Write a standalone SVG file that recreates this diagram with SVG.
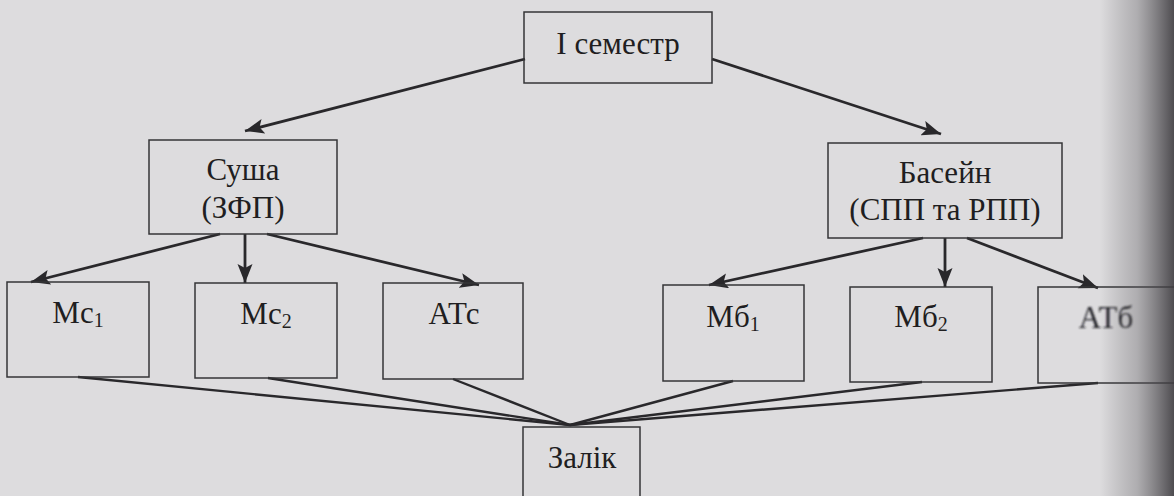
<svg xmlns="http://www.w3.org/2000/svg" width="1174" height="496" viewBox="0 0 1174 496">
  <style>
    .box { fill: none; stroke: #353437; stroke-width: 1.5; }
    .lbl { font-family: "Liberation Serif", "Times New Roman", serif; font-size: 31px; fill: #1f1e21; text-anchor: middle; }
    .sub { font-size: 20px; }
    .arr { stroke: #29282b; stroke-width: 2.8; fill: none; marker-end: url(#ah); }
    .ln { stroke: #29282b; stroke-width: 2.4; fill: none; }
  </style>
  <defs>
    <marker id="ah" markerUnits="userSpaceOnUse" markerWidth="22" markerHeight="16" refX="19" refY="7.5" orient="auto">
      <path d="M0,0 L19,7.5 L0,15 L4,7.5 Z" fill="#29282b"/>
    </marker>
    <linearGradient id="shade" x1="0" y1="0" x2="1" y2="0">
      <stop offset="0" stop-color="#4a484c" stop-opacity="0"/>
      <stop offset="0.5" stop-color="#5a585c" stop-opacity="0.35"/>
      <stop offset="1" stop-color="#3e3c40" stop-opacity="0.9"/>
    </linearGradient>
    <filter id="blur" x="-10%" y="-10%" width="120%" height="120%">
      <feGaussianBlur stdDeviation="0.9"/>
    </filter>
  </defs>

  <rect x="0" y="0" width="1174" height="496" fill="#dddcde"/>

  <g id="connectors">
    <line class="arr" x1="525" y1="59" x2="245" y2="131"/>
    <line class="arr" x1="712" y1="59" x2="941" y2="134"/>
    <line class="arr" x1="220" y1="234" x2="31" y2="282"/>
    <line class="arr" x1="245" y1="234" x2="245" y2="283"/>
    <line class="arr" x1="267" y1="234" x2="479" y2="285"/>
    <line class="arr" x1="923" y1="238" x2="709" y2="285"/>
    <line class="arr" x1="945" y1="238" x2="945" y2="287"/>
    <line class="arr" x1="967" y1="238" x2="1098" y2="288"/>
    <line class="ln" x1="78" y1="377" x2="570" y2="425"/>
    <line class="ln" x1="268" y1="378" x2="570" y2="425"/>
    <line class="ln" x1="453" y1="379" x2="570" y2="425"/>
    <line class="ln" x1="733" y1="381" x2="570" y2="425"/>
    <line class="ln" x1="922" y1="382" x2="570" y2="425"/>
    <line class="ln" x1="1098" y1="383" x2="570" y2="425"/>
  </g>

  <g id="semester">
    <rect class="box" x="524" y="12" width="188" height="71"/>
    <text class="lbl" x="618" y="54">I семестр</text>
  </g>
  <g id="susha">
    <rect class="box" x="149" y="140" width="188" height="94"/>
    <text class="lbl" x="243" y="180">Суша</text>
    <text class="lbl" x="243" y="218">(ЗФП)</text>
  </g>
  <g id="basein">
    <rect class="box" x="828" y="143" width="234" height="95"/>
    <text class="lbl" x="945" y="183">Басейн</text>
    <text class="lbl" x="945" y="220">(СПП та РПП)</text>
  </g>
  <g id="mc1">
    <rect class="box" x="7" y="282" width="142" height="95"/>
    <text class="lbl" x="78" y="323">Мс<tspan class="sub" dy="4">1</tspan></text>
  </g>
  <g id="mc2">
    <rect class="box" x="195" y="283" width="142" height="95"/>
    <text class="lbl" x="266" y="324">Мс<tspan class="sub" dy="4">2</tspan></text>
  </g>
  <g id="atc">
    <rect class="box" x="383" y="283" width="140" height="96"/>
    <text class="lbl" x="454" y="324">АТс</text>
  </g>
  <g id="mb1">
    <rect class="box" x="663" y="285" width="141" height="96"/>
    <text class="lbl" x="733" y="327">Мб<tspan class="sub" dy="4">1</tspan></text>
  </g>
  <g id="mb2">
    <rect class="box" x="850" y="287" width="142" height="95"/>
    <text class="lbl" x="921" y="327">Мб<tspan class="sub" dy="4">2</tspan></text>
  </g>
  <g id="atb">
    <rect class="box" x="1038" y="287" width="170" height="96" stroke="#5a595c"/>
    <text class="lbl" x="1106" y="328" fill="#656468" filter="url(#blur)">АТб</text>
  </g>
  <g id="zalik">
    <rect class="box" x="523" y="427" width="117" height="80"/>
    <text class="lbl" x="582" y="468">Залік</text>
  </g>

  <rect x="1100" y="0" width="74" height="496" fill="url(#shade)"/>
</svg>
